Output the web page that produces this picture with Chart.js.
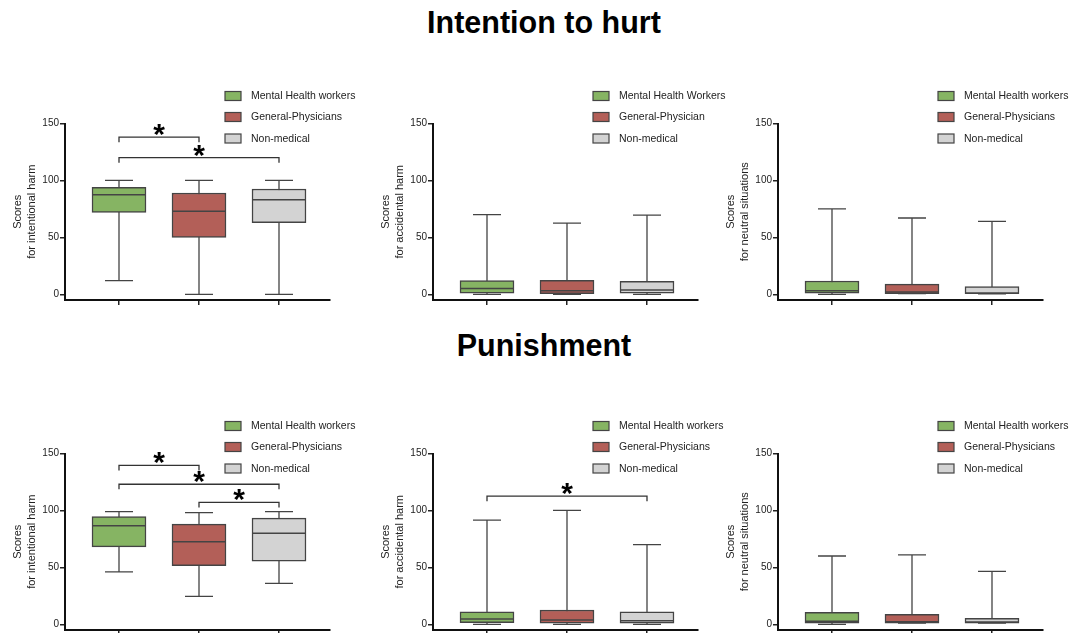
<!DOCTYPE html>
<html>
<head>
<meta charset="utf-8">
<script src="https://cdn.jsdelivr.net/npm/chart.js@4.4.0/dist/chart.umd.min.js"></script>
<style>
  body { margin: 0; width: 1077px; height: 633px; background: #fff; position: relative; overflow: hidden; font-family: "Liberation Sans", Arial, sans-serif; }
  .title { position: absolute; left: 0; width: 1088px; text-align: center; font-weight: bold; font-size: 30.5px; color: #000; line-height: 30px; }
  .panel { position: absolute; width: 365px; height: 260px; }
</style>
</head>
<body>
<div class="title" style="top:7px">Intention to hurt</div>
<div class="title" style="top:330px">Punishment</div>

<div class="panel" style="left:0px;top:60px"><canvas id="hurtIntent"></canvas></div>
<div class="panel" style="left:368px;top:60px"><canvas id="hurtAccident"></canvas></div>
<div class="panel" style="left:713px;top:60px"><canvas id="hurtNeutral"></canvas></div>
<div class="panel" style="left:0px;top:390px"><canvas id="punIntent"></canvas></div>
<div class="panel" style="left:368px;top:390px"><canvas id="punAccident"></canvas></div>
<div class="panel" style="left:713px;top:390px"><canvas id="punNeutral"></canvas></div>

<script>
// groups, in order along the x axis
const groups = ['Mental Health workers', 'General-Physicians', 'Non-medical'];
const groupsAlt = ['Mental Health Workers', 'General-Physician', 'Non-medical'];
const groupColors = ['#86b463', '#b35f58', '#d3d3d3'];
const yTicks = [0, 50, 100, 150];

// each box: [min, q1, median, q3, max]
const hurtIntentBoxes = [[12, 72, 87.5, 94, 100], [0, 50, 73, 89, 100], [0, 63, 83, 92.5, 100]];
const hurtAccidentBoxes = [[0, 1, 5, 12, 70], [0, 0.6, 3.2, 12.3, 62.5], [0, 1, 3.8, 11.4, 69.5]];
const hurtNeutralBoxes = [[0, 1, 3.2, 11.7, 75], [0.6, 0.6, 2, 9, 67], [0.5, 0.5, 1, 6.7, 64]];
const punIntentBoxes = [[46, 68, 86.5, 94.5, 99], [24.5, 51.5, 72.4, 88, 98], [36, 55.5, 80, 93.3, 99]];
const punAccidentBoxes = [[0, 1.5, 4.7, 11, 91.5], [0, 1, 3.8, 12.6, 100], [0, 1, 3.2, 11, 70]];
const punNeutralBoxes = [[0, 1, 2.6, 10.5, 60], [1, 1, 2.3, 8.8, 61], [1, 1, 2, 5.3, 46.5]];

// significance brackets: [from group, to group, level]
const hurtIntentSig = [[1, 2, 138], [1, 3, 120]];
const punIntentSig = [[1, 2, 139.5], [1, 3, 123], [2, 3, 107]];
const punAccidentSig = [[1, 3, 112.5]];

const boxPlugin = {
    id: 'boxPlot',
    beforeDatasetsDraw(chart) {
        const {ctx, scales: {x, y}} = chart;
        ctx.save();
        ctx.strokeStyle = '#444';
        ctx.lineWidth = 1.3;
        chart.data.datasets.forEach(ds => {
            const s = ds.stats;
            const px = x.getPixelForValue(ds.data[0].x);
            ctx.beginPath();
            ctx.moveTo(px, y.getPixelForValue(s[0]));
            ctx.lineTo(px, y.getPixelForValue(s[4]));
            [s[0], s[4]].forEach(v => {
                ctx.moveTo(px - 14, y.getPixelForValue(v));
                ctx.lineTo(px + 14, y.getPixelForValue(v));
            });
            ctx.stroke();
        });
        ctx.restore();
    },
    afterDatasetsDraw(chart) {
        const {ctx, scales: {x, y}} = chart;
        ctx.save();
        ctx.strokeStyle = '#444';
        ctx.lineWidth = 1.5;
        chart.data.datasets.forEach(ds => {
            const px = x.getPixelForValue(ds.data[0].x);
            const py = y.getPixelForValue(ds.stats[2]);
            ctx.beginPath();
            ctx.moveTo(px - 27, py);
            ctx.lineTo(px + 27, py);
            ctx.stroke();
        });
        // significance brackets
        ctx.strokeStyle = '#333';
        ctx.lineWidth = 1.3;
        ctx.fillStyle = '#000';
        ctx.font = 'bold 30px "Liberation Sans", Arial, sans-serif';
        ctx.textAlign = 'center';
        ctx.textBaseline = 'alphabetic';
        (chart.options.plugins.boxPlot.sig || []).forEach(b => {
            const x1 = x.getPixelForValue(b[0]);
            const x2 = x.getPixelForValue(b[1]);
            const py = y.getPixelForValue(b[2]);
            ctx.beginPath();
            ctx.moveTo(x1, py + 5);
            ctx.lineTo(x1, py);
            ctx.lineTo(x2, py);
            ctx.lineTo(x2, py + 5);
            ctx.stroke();
            ctx.fillText('*', (x1 + x2) / 2, py + 7);
        });
        ctx.restore();
    },
    afterDraw(chart) {
        // legend: three rows, up and right of the plot
        const {ctx, chartArea, scales: {y}} = chart;
        const top = y.getPixelForValue(150);
        const left = chartArea.left + 160;
        const rows = [-27.5, -6.5, 15];
        ctx.save();
        ctx.font = '10.5px "Liberation Sans", Arial, sans-serif';
        ctx.textBaseline = 'middle';
        ctx.textAlign = 'left';
        chart.data.datasets.forEach((ds, i) => {
            const cy = top + rows[i];
            ctx.fillStyle = ds.backgroundColor;
            ctx.fillRect(left, cy - 4.5, 16, 9);
            ctx.strokeStyle = '#444';
            ctx.lineWidth = 1.2;
            ctx.strokeRect(left, cy - 4.5, 16, 9);
            ctx.fillStyle = '#222';
            ctx.fillText(ds.label, left + 26, cy + 0.5);
        });
        ctx.restore();
    }
};

function makeChart(id, boxes, labels, yTitle, sig) {
    const ctx = document.getElementById(id).getContext('2d');
    return new Chart(ctx, {
        type: 'bar',
        data: {
            datasets: boxes.map((b, i) => ({
                label: labels[i],
                data: [{x: i + 1, y: [b[1], b[3]]}],
                stats: b,
                backgroundColor: groupColors[i],
                borderColor: '#444',
                borderWidth: 1.5,
                borderSkipped: false,
                barThickness: 54,
                grouped: false
            }))
        },
        options: {
            responsive: true,
            maintainAspectRatio: false,
            animation: false,
            layout: {padding: {top: 63.5, right: 35, bottom: 8, left: 0}},
            scales: {
                x: {
                    type: 'linear',
                    min: 0.325,
                    max: 3.6375,
                    offset: false,
                    afterBuildTicks: scale => { scale.ticks = [1, 2, 3].map(v => ({value: v})); },
                    afterFit: scale => { scale.height = 12; },
                    ticks: {callback: () => ''},
                    grid: {offset: false, drawOnChartArea: false, drawTicks: true, tickLength: 5, color: '#222', lineWidth: 1.5},
                    border: {display: true, color: '#111', width: 2}
                },
                y: {
                    min: -5,
                    max: 150,
                    afterBuildTicks: scale => { scale.ticks = yTicks.map(v => ({value: v})); },
                    afterFit: scale => { scale.width = 65; },
                    ticks: {
                        color: '#222',
                        padding: 1,
                        font: {size: 10, family: '"Liberation Sans", Arial, sans-serif'}
                    },
                    grid: {drawOnChartArea: false, drawTicks: true, tickLength: 5, color: '#222', lineWidth: 1.5},
                    border: {display: true, color: '#111', width: 2},
                    title: {
                        display: true,
                        text: ['Scores', yTitle],
                        color: '#222',
                        padding: {top: 11, bottom: 0},
                        font: {size: 11, lineHeight: 1.27, family: '"Liberation Sans", Arial, sans-serif'}
                    }
                }
            },
            plugins: {
                legend: {display: false},
                tooltip: {enabled: false},
                boxPlot: {sig: sig}
            }
        },
        plugins: [boxPlugin]
    });
}

makeChart('hurtIntent', hurtIntentBoxes, groups, 'for intentional harm', hurtIntentSig);
makeChart('hurtAccident', hurtAccidentBoxes, groupsAlt, 'for accidental harm', []);
makeChart('hurtNeutral', hurtNeutralBoxes, groups, 'for neutral situations', []);
makeChart('punIntent', punIntentBoxes, groups, 'for intentional harm', punIntentSig);
makeChart('punAccident', punAccidentBoxes, groups, 'for accidental harm', punAccidentSig);
makeChart('punNeutral', punNeutralBoxes, groups, 'for neutral situations', []);
</script>
</body>
</html>
